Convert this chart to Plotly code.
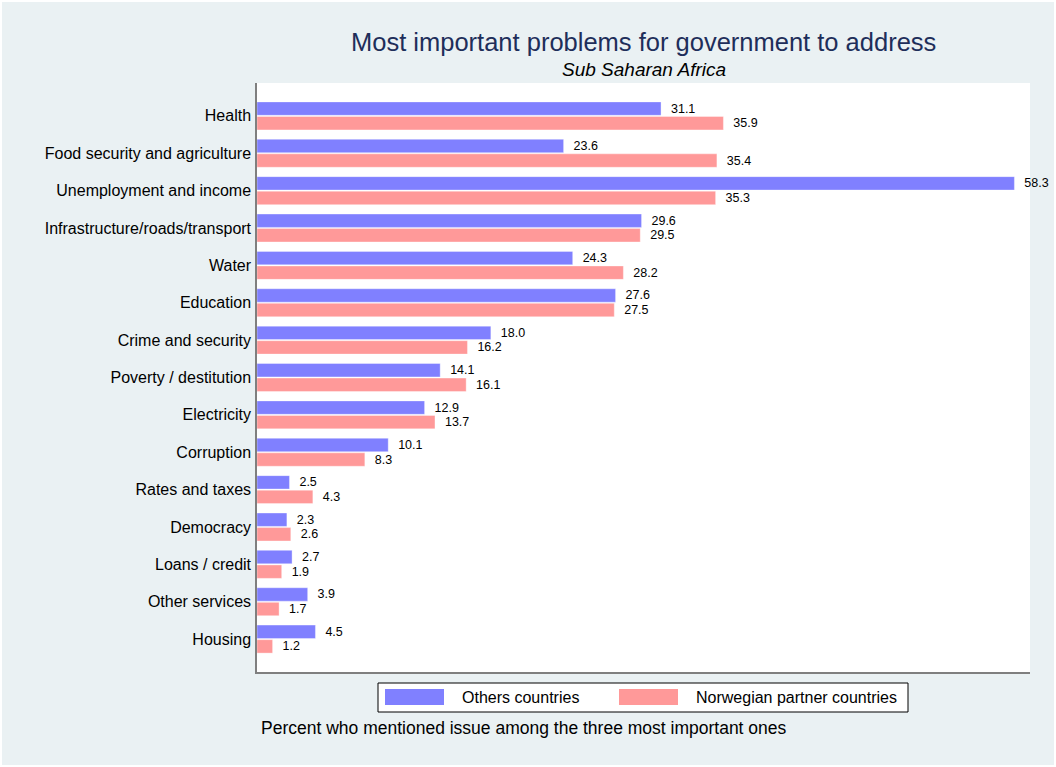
import plotly.graph_objects as go

categories = ["Health", "Food security and agriculture", "Unemployment and income",
              "Infrastructure/roads/transport", "Water", "Education", "Crime and security",
              "Poverty / destitution", "Electricity", "Corruption", "Rates and taxes",
              "Democracy", "Loans / credit", "Other services", "Housing"]
others = [31.1, 23.6, 58.3, 29.6, 24.3, 27.6, 18.0, 14.1, 12.9, 10.1, 2.5, 2.3, 2.7, 3.9, 4.5]
norwegian = [35.9, 35.4, 35.3, 29.5, 28.2, 27.5, 16.2, 16.1, 13.7, 8.3, 4.3, 2.6, 1.9, 1.7, 1.2]
series_names = ["Others countries", "Norwegian partner countries"]
colors = ["#8080FF", "#FF9999"]

W, H = 1056, 767
L, R, T, B = 257, 26, 83, 95
pw, ph = W - L - R, H - T - B

def px(x):
    return (x - L) / pw

def py(y):
    return (H - B - y) / ph

font_family = "Arial, Liberation Sans, Helvetica, sans-serif"

fig = go.Figure()
for name, vals, col in zip(series_names, [others, norwegian], colors):
    fig.add_trace(go.Bar(
        y=categories, x=vals, name=name, orientation="h",
        marker=dict(color=col, line=dict(color="rgba(255,255,255,0.6)", width=0.6)),
        text=vals, texttemplate="\u00a0\u00a0%{x:.1f}", textposition="outside",
        textfont=dict(size=12.5, color="#000000", family=font_family),
        constraintext="none", cliponaxis=False, showlegend=False,
    ))

fig.update_layout(
    width=W, height=H,
    margin=dict(l=L, r=R, t=T, b=B, pad=0),
    paper_bgcolor="#EAF1F3", plot_bgcolor="#FFFFFF",
    barmode="group", bargap=0.22, bargroupgap=0.08,
    font=dict(family=font_family, color="#000000"),
    xaxis=dict(range=[0, 59.5], showgrid=False, zeroline=False, showticklabels=False,
               ticks="", showline=True, linecolor="#7f7f7f", linewidth=1.5, mirror=False),
    yaxis=dict(range=[14.88, -0.88], showgrid=False, zeroline=False, ticks="",
               showline=True, linecolor="#7f7f7f", linewidth=1.5, ticklabelstandoff=1,
               tickfont=dict(size=16, color="#000000", family=font_family)),
    uniformtext=dict(mode=False),
)

# titles
fig.add_annotation(text="Most important problems for government to address", xref="paper", yref="paper",
                   x=0.5, y=py(42), xanchor="center", yanchor="middle", showarrow=False,
                   font=dict(size=25.5, color="#1E2E5A", family=font_family))
fig.add_annotation(text="<i>Sub Saharan Africa</i>", xref="paper", yref="paper",
                   x=0.5, y=py(70), xanchor="center", yanchor="middle", showarrow=False,
                   font=dict(size=19, color="#000000", family=font_family))
fig.add_annotation(text="Percent who mentioned issue among the three most important ones", xref="paper", yref="paper",
                   x=px(259), y=py(728), xanchor="left", yanchor="middle", showarrow=False,
                   font=dict(size=17.5, color="#000000", family=font_family))

# legend (drawn)
fig.add_shape(type="rect", xref="paper", yref="paper", x0=px(378), x1=px(908), y0=py(683), y1=py(712),
              line=dict(color="#000000", width=1), fillcolor="#FFFFFF", layer="below")
legend_pos = [(385, 460), (619, 694)]
for (sx, tx), name, col in zip(legend_pos, series_names, colors):
    fig.add_shape(type="rect", xref="paper", yref="paper", x0=px(sx), x1=px(sx + 59), y0=py(689), y1=py(705),
                  line=dict(width=0), fillcolor=col)
    fig.add_annotation(text=name, xref="paper", yref="paper", x=px(tx), y=py(697.5),
                       xanchor="left", yanchor="middle", showarrow=False,
                       font=dict(size=16, color="#000000", family=font_family))

# white frame around figure
fig.add_shape(type="rect", xref="paper", yref="paper", x0=px(1), x1=px(W - 1), y0=py(1), y1=py(H - 1),
              line=dict(color="#FFFFFF", width=2), fillcolor="rgba(0,0,0,0)", layer="below")

fig.write_html("out.html", config={"displayModeBar": False},
               post_script="document.body.style.margin='0';document.body.style.padding='0';")
